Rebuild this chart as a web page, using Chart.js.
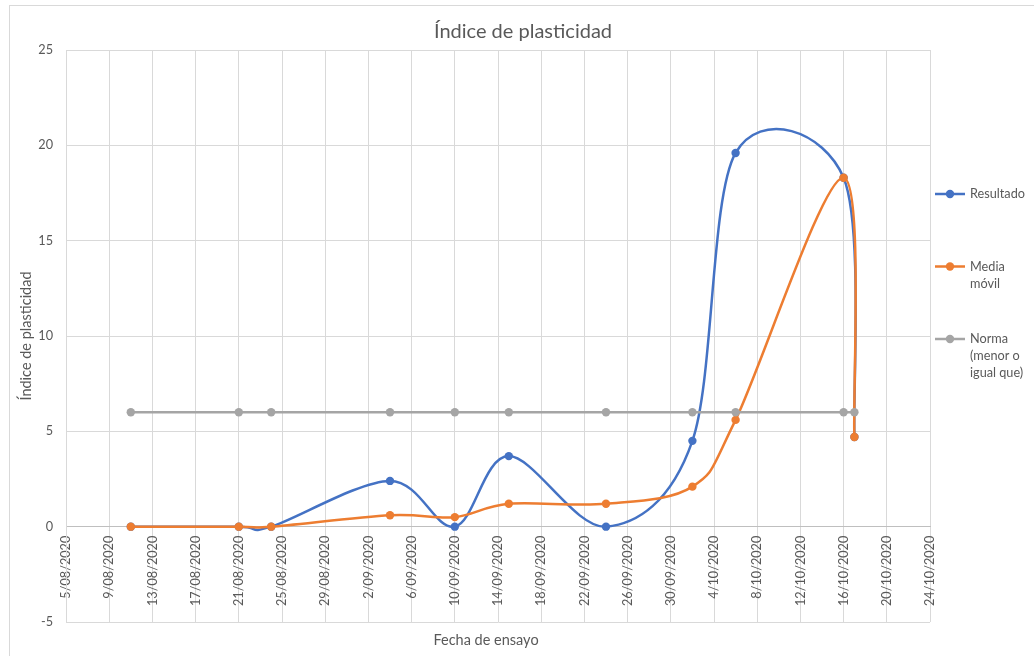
<!DOCTYPE html>
<html lang="es">
<head>
<meta charset="utf-8">
<title>Índice de plasticidad</title>
<script src="https://cdn.jsdelivr.net/npm/chart.js@4.4.1/dist/chart.umd.min.js"></script>
<style>
  html, body { margin: 0; padding: 0; background: #ffffff; }
  #wrap { width: 1034px; height: 656px; position: relative; }
</style>
</head>
<body>
<div id="wrap"><canvas id="chart" width="1034" height="656"></canvas></div>
<script>
// Fechas de ensayo (día/mes/año)
const fechas = ['2020-08-11', '2020-08-21', '2020-08-24', '2020-09-04', '2020-09-10',
                '2020-09-15', '2020-09-24', '2020-10-02', '2020-10-06', '2020-10-16', '2020-10-17'];
// Índice de plasticidad medido
const resultado  = [0, 0, 0, 2.4, 0, 3.7, 0, 4.5, 19.6, 18.3, 4.7];
// Media móvil del índice
const mediaMovil = [0, 0, 0, 0.6, 0.5, 1.2, 1.2, 2.1, 5.6, 18.3, 4.7];
// Límite de la norma (menor o igual que)
const norma      = [6, 6, 6, 6, 6, 6, 6, 6, 6, 6, 6];

const nombresSeries = ['Resultado', 'Media móvil', 'Norma (menor o igual que)'];
const coloresSeries = ['#4472C4', '#ED7D31', '#A5A5A5'];

// Rango del eje de fechas y del eje de valores
const fechaInicio = '2020-08-05';
const fechaFin = '2020-10-24';
const pasoDias = 4;
const yMin = -5, yMax = 25, yPaso = 5;

const DIA = 86400000;
function aDia(iso) {
  const [a, m, d] = iso.split('-').map(Number);
  return Date.UTC(a, m - 1, d) / DIA;
}
function formatoFecha(v) {
  const f = new Date(Math.round(v) * DIA);
  const mm = String(f.getUTCMonth() + 1).padStart(2, '0');
  return f.getUTCDate() + '/' + mm + '/' + f.getUTCFullYear();
}
function puntos(valores) {
  return fechas.map((f, i) => ({ x: aDia(f), y: valores[i] }));
}

const GRIS_TEXTO = '#595959';
const GRIS_REJILLA = '#d9d9d9';
const FUENTE = 'Lato, "Open Sans", sans-serif';

Chart.defaults.font.family = FUENTE;
Chart.defaults.font.size = 12.7;
Chart.defaults.color = GRIS_TEXTO;

function serie(i, valores, orden) {
  return {
    label: nombresSeries[i],
    data: puntos(valores),
    showLine: true,
    borderColor: coloresSeries[i],
    backgroundColor: coloresSeries[i],
    borderWidth: 2.5,
    pointRadius: 4.2,
    pointBorderWidth: 0,
    pointHoverRadius: 4.2,
    tension: 0.4,
    order: orden
  };
}

// Suavizado tipo Catmull-Rom uniforme: puntos de control a 1/6 de la cuerda vecina
const suavizado = {
  id: 'suavizado',
  beforeDatasetsDraw(chart) {
    chart.getSortedVisibleDatasetMetas().forEach(meta => {
      if (!meta.dataset) return;
      meta.dataset.updateControlPoints(chart.chartArea, meta.iScale.axis);
      const pts = meta.data;
      const n = pts.length;
      for (let i = 0; i < n; i++) {
        const p = pts[i];
        const prev = pts[i - 1] || p;
        const next = pts[i + 1] || p;
        const dx = (next.x - prev.x) / 6;
        const dy = (next.y - prev.y) / 6;
        p.cp1x = p.x - dx; p.cp1y = p.y - dy;
        p.cp2x = p.x + dx; p.cp2y = p.y + dy;
      }
      meta.dataset._path = undefined;
    });
  }
};

// Marco del gráfico, títulos y leyenda lateral
const decoracion = {
  id: 'decoracion',
  beforeDraw(chart) {
    const ctx = chart.ctx;
    ctx.save();
    ctx.fillStyle = '#ffffff';
    ctx.fillRect(0, 0, chart.width, chart.height);
    ctx.strokeStyle = GRIS_REJILLA;
    ctx.lineWidth = 1;
    ctx.strokeRect(9.5, 5.5, chart.width + 20, chart.height + 20);
    ctx.restore();
  },
  afterDraw(chart, args, opts) {
    const ctx = chart.ctx;
    ctx.save();
    ctx.fillStyle = GRIS_TEXTO;
    ctx.textAlign = 'center';
    ctx.textBaseline = 'middle';
    // Título del gráfico
    ctx.font = '20px ' + FUENTE;
    ctx.fillText(opts.titulo, opts.tituloX, opts.tituloY);
    // Título del eje de fechas
    ctx.font = '14.5px ' + FUENTE;
    ctx.fillText(opts.tituloEjeX, opts.tituloEjeXX, opts.tituloEjeXY);

    // Leyenda
    ctx.font = '12.7px ' + FUENTE;
    ctx.textAlign = 'left';
    chart.data.datasets.forEach((ds, i) => {
      const y0 = opts.leyendaY + i * opts.leyendaPaso;
      const x0 = opts.leyendaX;
      ctx.strokeStyle = ds.borderColor;
      ctx.lineWidth = 2.5;
      ctx.beginPath();
      ctx.moveTo(x0, y0);
      ctx.lineTo(x0 + 30, y0);
      ctx.stroke();
      ctx.fillStyle = ds.backgroundColor;
      ctx.beginPath();
      ctx.arc(x0 + 15, y0, 4.2, 0, Math.PI * 2);
      ctx.fill();
      // Texto en varias líneas según el ancho disponible
      const palabras = ds.label.split(' ');
      const lineas = [];
      let actual = '';
      palabras.forEach(p => {
        const prueba = actual ? actual + ' ' + p : p;
        if (actual && ctx.measureText(prueba).width > opts.leyendaAncho) {
          lineas.push(actual);
          actual = p;
        } else {
          actual = prueba;
        }
      });
      if (actual) lineas.push(actual);
      ctx.fillStyle = GRIS_TEXTO;
      lineas.forEach((l, k) => ctx.fillText(l, x0 + 35, y0 + k * 17));
    });
    ctx.restore();
  }
};

new Chart(document.getElementById('chart'), {
  type: 'scatter',
  data: {
    datasets: [
      serie(0, resultado, 3),
      serie(1, mediaMovil, 2),
      serie(2, norma, 1)
    ]
  },
  options: {
    responsive: false,
    animation: false,
    events: [],
    layout: { padding: { left: 10, right: 104, top: 50, bottom: 34 } },
    plugins: {
      legend: { display: false },
      tooltip: { enabled: false },
      decoracion: {
        titulo: 'Índice de plasticidad',
        tituloX: 523, tituloY: 32,
        tituloEjeX: 'Fecha de ensayo',
        tituloEjeXX: 486, tituloEjeXY: 640,
        leyendaX: 935, leyendaY: 194, leyendaPaso: 72.5, leyendaAncho: 62
      }
    },
    scales: {
      x: {
        type: 'linear',
        position: { y: 0 },
        min: aDia(fechaInicio),
        max: aDia(fechaFin),
        afterFit(scale) { scale.height = 34; },
        ticks: {
          stepSize: pasoDias,
          autoSkip: false,
          minRotation: 90,
          maxRotation: 90,
          padding: 9,
          color: GRIS_TEXTO,
          callback: (v) => formatoFecha(v)
        },
        grid: { color: GRIS_REJILLA, lineWidth: 1, drawTicks: false },
        border: { color: '#bfbfbf' }
      },
      y: {
        min: yMin,
        max: yMax,
        afterFit(scale) { scale.width = 56; },
        ticks: {
          stepSize: yPaso,
          padding: 13,
          color: GRIS_TEXTO
        },
        grid: { drawTicks: false, lineWidth: 1, color: GRIS_REJILLA },
        border: { color: GRIS_REJILLA },
        title: {
          display: true,
          text: 'Índice de plasticidad',
          color: GRIS_TEXTO,
          font: { size: 14.5 },
          padding: { top: 7.5, bottom: 0 }
        }
      }
    }
  },
  plugins: [suavizado, decoracion]
});
</script>
</body>
</html>
